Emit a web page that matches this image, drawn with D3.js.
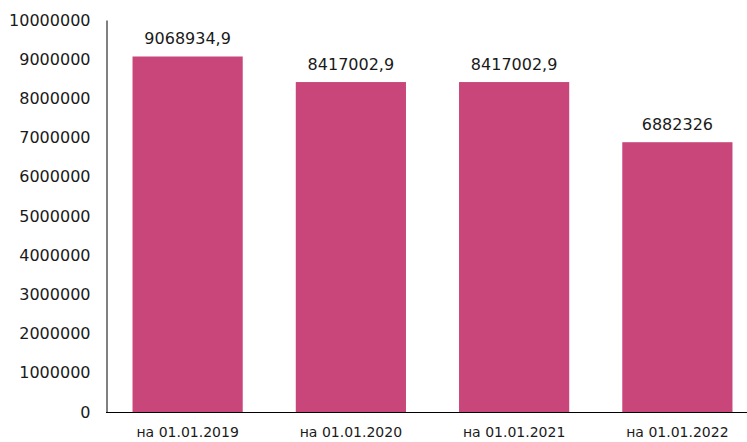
<!DOCTYPE html>
<html><head><meta charset="utf-8">
<script src="https://cdn.jsdelivr.net/npm/d3@7"></script>
<style>body{margin:0;background:#fff}svg{display:block}text{font-family:"DejaVu Sans",sans-serif;fill:#1a1a1a}</style>
</head><body><svg id="c" width="747" height="442"></svg>
<script>
const categories = ["на 01.01.2019","на 01.01.2020","на 01.01.2021","на 01.01.2022"];
const values = [9068934.9, 8417002.9, 8417002.9, 6882326];
const valueLabels = ["9068934,9","8417002,9","8417002,9","6882326"];
const yTicks = [0,1000000,2000000,3000000,4000000,5000000,6000000,7000000,8000000,9000000,10000000];

const W = 747, H = 442;
const svg = d3.select("#c");
const x = d3.scaleBand().domain(categories).range([106, 759]).paddingInner(0.325).paddingOuter(0.1625);
const y = d3.scaleLinear().domain([0, 10000000]).range([412, 20]);

svg.selectAll("rect.bar").data(values).join("rect")
  .attr("class","bar")
  .attr("x",(d,i)=>x(categories[i]))
  .attr("width",x.bandwidth())
  .attr("y",d=>y(d))
  .attr("height",d=>y(0)-y(d))
  .attr("fill","#C8467A");

svg.selectAll("text.val").data(values).join("text")
  .attr("class","val")
  .attr("x",(d,i)=>x(categories[i])+x.bandwidth()/2)
  .attr("y",d=>y(d)-12)
  .attr("text-anchor","middle")
  .attr("font-size",16)
  .text((d,i)=>valueLabels[i]);

// y axis
const yAxis = d3.axisLeft(y).tickValues(yTicks).tickSize(0).tickPadding(16).tickFormat(d3.format("d"));
const gy = svg.append("g").attr("transform","translate(106.5,0)").call(yAxis);
gy.select(".domain").attr("stroke","#000");
gy.selectAll("text").attr("font-size",16).attr("font-family","DejaVu Sans").attr("fill","#1a1a1a");

// x axis
const xAxis = d3.axisBottom(x).tickSize(0).tickPadding(15);
const gx = svg.append("g").attr("transform","translate(0,412.5)").call(xAxis);
gx.select(".domain").remove();
gx.selectAll("text").attr("font-size",14).attr("font-family","DejaVu Sans").attr("fill","#1a1a1a");
svg.append("line").attr("x1",106).attr("x2",W).attr("y1",412.5).attr("y2",412.5).attr("stroke","#000");
</script></body></html>
